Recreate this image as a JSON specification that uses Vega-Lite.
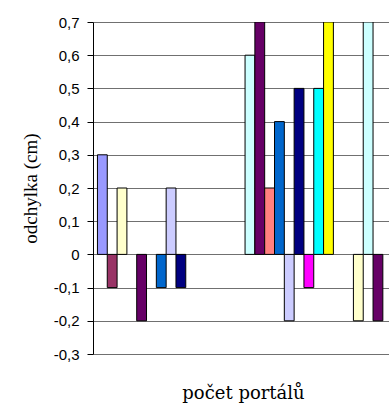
{
  "$schema": "https://vega.github.io/schema/vega-lite/v6.json",
  "autosize": "none",
  "padding": {"left": 93, "top": 22, "right": 0, "bottom": 49},
  "width": 296,
  "height": 332,
  "background": "white",
  "config": {
    "view": {"stroke": null},
    "axis": {"labelFont": "Liberation Sans", "titleFont": "Liberation Serif", "titleFontWeight": "normal", "titleColor": "black", "labelColor": "black"}
  },
  "data": {
    "values": [
      {"pocet": "1", "rada": "s01", "odchylka": 0.3},
      {"pocet": "1", "rada": "s02", "odchylka": -0.1},
      {"pocet": "1", "rada": "s03", "odchylka": 0.2},
      {"pocet": "1", "rada": "s05", "odchylka": -0.2},
      {"pocet": "1", "rada": "s07", "odchylka": -0.1},
      {"pocet": "1", "rada": "s08", "odchylka": 0.2},
      {"pocet": "1", "rada": "s09", "odchylka": -0.1},
      {"pocet": "2", "rada": "s04", "odchylka": 0.6},
      {"pocet": "2", "rada": "s05", "odchylka": 0.7},
      {"pocet": "2", "rada": "s06", "odchylka": 0.2},
      {"pocet": "2", "rada": "s07", "odchylka": 0.4},
      {"pocet": "2", "rada": "s08", "odchylka": -0.2},
      {"pocet": "2", "rada": "s09", "odchylka": 0.5},
      {"pocet": "2", "rada": "s10", "odchylka": -0.1},
      {"pocet": "2", "rada": "s11", "odchylka": 0.5},
      {"pocet": "2", "rada": "s12", "odchylka": 0.7},
      {"pocet": "3", "rada": "s03", "odchylka": -0.2},
      {"pocet": "3", "rada": "s04", "odchylka": 0.7},
      {"pocet": "3", "rada": "s05", "odchylka": -0.2}
    ]
  },
  "mark": {"type": "bar", "stroke": "black", "strokeWidth": 1, "clip": true},
  "encoding": {
    "x": {
      "field": "pocet",
      "type": "nominal",
      "scale": {"range": [0, 363], "paddingInner": 0, "paddingOuter": 0.036},
      "axis": {"title": "počet portálů", "titleFont": "DejaVu Serif", "titleFontSize": 18, "titleBaseline": "alphabetic", "titleX": 150, "titleY": 44, "labels": false, "ticks": false, "domain": false, "grid": false}
    },
    "xOffset": {
      "field": "rada",
      "type": "nominal",
      "scale": {"domain": ["s01", "s02", "s03", "s04", "s05", "s06", "s07", "s08", "s09", "s10", "s11", "s12"], "paddingInner": 0, "paddingOuter": 0.02}
    },
    "y": {
      "field": "odchylka",
      "type": "quantitative",
      "scale": {"domain": [-0.3, 0.7], "nice": false},
      "axis": {
        "title": "odchylka (cm)",
        "titleFontSize": 19,
        "titleBaseline": "middle",
        "titleX": -63,
        "titleY": 166,
        "values": [-0.3, -0.2, -0.1, 0, 0.1, 0.2, 0.3, 0.4, 0.5, 0.6, 0.7],
        "labelExpr": "datum.value == 0 ? '0' : replace(replace(format(datum.value, '.1f'), '.', ','), '\u2212', '-')",
        "labelFontSize": 15,
        "labelPadding": 8,
        "tickSize": 6,
        "tickColor": "black",
        "domainColor": "black",
        "grid": true,
        "gridColor": "#707070",
        "gridOpacity": 1
      }
    },
    "color": {
      "field": "rada",
      "type": "nominal",
      "legend": null,
      "scale": {
        "domain": ["s01", "s02", "s03", "s04", "s05", "s06", "s07", "s08", "s09", "s10", "s11", "s12"],
        "range": ["#9999FF", "#993366", "#FFFFCC", "#CCFFFF", "#660066", "#FF8080", "#0066CC", "#CCCCFF", "#000080", "#FF00FF", "#00FFFF", "#FFFF00"]
      }
    }
  }
}
